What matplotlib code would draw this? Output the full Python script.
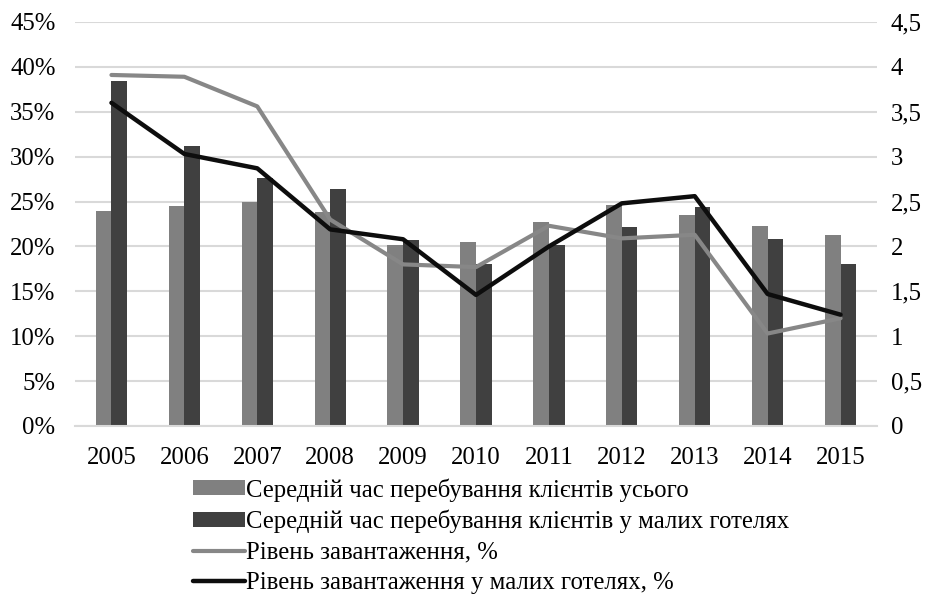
import matplotlib
matplotlib.use("Agg")
import matplotlib.pyplot as plt
import numpy as np
from matplotlib.ticker import FuncFormatter


years = ["2005", "2006", "2007", "2008", "2009", "2010",
         "2011", "2012", "2013", "2014", "2015"]

# average stay, days (right axis)
stay_all = [2.40, 2.45, 2.50, 2.38, 2.02, 2.05, 2.27, 2.46, 2.35, 2.23, 2.13]
stay_small = [3.84, 3.12, 2.76, 2.64, 2.07, 1.80, 2.02, 2.22, 2.44, 2.08, 1.80]

# occupancy, % (left axis)
occ_all = [39.1, 38.9, 35.6, 23.0, 18.0, 17.7, 22.3, 20.9, 21.3, 10.3, 12.0]
occ_small = [36.0, 30.3, 28.7, 21.9, 20.8, 14.6, 20.0, 24.8, 25.6, 14.7, 12.4]

labels = [
    "Середній час перебування клієнтів усього",
    "Середній час перебування клієнтів у малих готелях",
    "Рівень завантаження, %",
    "Рівень завантаження у малих готелях, %",
]

plt.rcParams["font.family"] = ["Liberation Serif", "DejaVu Serif"]
FS = 17.8

fig = plt.figure(figsize=(9.29, 5.94), dpi=100)
ax = fig.add_axes([75 / 929, 1 - 426 / 594, 802 / 929, 404 / 594])
ax2 = ax.twinx()

x = np.arange(len(years))
w = 0.215
b1 = ax.bar(x - w / 2, stay_all, w, color="#808080", zorder=2)
b2 = ax.bar(x + w / 2, stay_small, w, color="#404040", zorder=2)

l1, = ax2.plot(x, occ_all, color="#878787", lw=3.0,
               solid_capstyle="round", solid_joinstyle="round")
l2, = ax2.plot(x, occ_small, color="#0d0d0d", lw=3.2,
               solid_capstyle="round", solid_joinstyle="round")

ax.set_xlim(-0.5, len(years) - 0.5)
ax.set_ylim(0, 4.5)
ax.set_yticks(np.arange(0, 4.51, 0.5))
ax.yaxis.tick_right()
ax.yaxis.set_major_formatter(FuncFormatter(
    lambda v, p: ("%g" % v).replace(".", ",")))
ax.grid(axis="y", color="#d9d9d9", lw=1.5, zorder=0)
ax.set_axisbelow(True)

ax2.set_ylim(0, 45)
ax2.set_yticks(np.arange(0, 46, 5))
ax2.yaxis.tick_left()
ax2.yaxis.set_major_formatter(FuncFormatter(lambda v, p: "%d%%" % v))

ax.set_xticks(x)
ax.set_xticklabels(years)

for a in (ax, ax2):
    for s in a.spines.values():
        s.set_visible(False)
    a.tick_params(length=0, labelsize=FS)
ax.tick_params(axis="x", pad=15)
ax.tick_params(axis="y", pad=10)
ax2.tick_params(axis="y", pad=14)
ax.spines["bottom"].set_visible(True)
ax.spines["bottom"].set_color("#d9d9d9")
ax.spines["bottom"].set_linewidth(1.5)

fig.legend([b1, b2, l1, l2], labels, loc="upper left",
           bbox_to_anchor=(193 / 929, 1 - 478 / 594), frameon=False,
           fontsize=FS, handlelength=2.1, handleheight=0.57,
           handletextpad=0.05, labelspacing=0.34, borderpad=0,
           borderaxespad=0)

fig.savefig("out.png", dpi=100)
